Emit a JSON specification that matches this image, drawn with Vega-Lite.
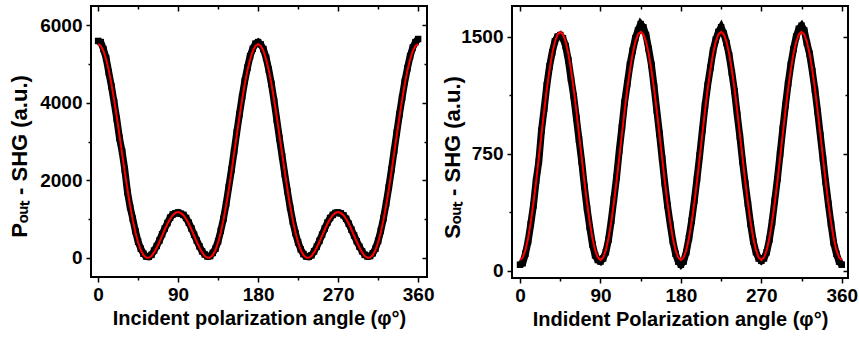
{
  "$schema": "https://vega.github.io/schema/vega-lite/v6.json",
  "background": "white",
  "padding": {"left": 7, "top": 4, "right": 5, "bottom": 5},
  "bounds": "flush",
  "spacing": 85,
  "config": {
    "view": {"stroke": "black", "strokeWidth": 2},
    "axis": {
      "domain": false, "grid": false,
      "labelFont": "Liberation Sans", "labelFontWeight": "bold", "labelFontSize": 19, "labelColor": "black",
      "titleFont": "Liberation Sans", "titleFontWeight": "bold", "titleFontSize": 20, "titleColor": "black",
      "tickColor": "black", "tickWidth": 1.5
    }
  },
  "datasets": {
    "L": [
      {"a":0,"d":5590,"f":5506},{"a":3,"d":5560,"f":5461},{"a":6,"d":5380,"f":5331},{"a":9,"d":5150,"f":5118},{"a":12,"d":4780,"f":4832},{"a":15,"d":4420,"f":4480},{"a":18,"d":4010,"f":4075},{"a":21,"d":3580,"f":3631},{"a":24,"d":3090,"f":3163},{"a":27,"d":2740,"f":2686},{"a":30,"d":2280,"f":2215},{"a":33,"d":1700,"f":1764},{"a":36,"d":1310,"f":1347},{"a":39,"d":1010,"f":974},{"a":42,"d":690,"f":655},{"a":45,"d":420,"f":397},{"a":48,"d":240,"f":203},{"a":51,"d":110,"f":75},{"a":54,"d":40,"f":10},{"a":57,"d":30,"f":5},{"a":60,"d":80,"f":52},{"a":63,"d":190,"f":144},{"a":66,"d":310,"f":269},{"a":69,"d":450,"f":417},{"a":72,"d":610,"f":575},{"a":75,"d":760,"f":733},{"a":78,"d":900,"f":880},{"a":81,"d":1040,"f":1004},{"a":84,"d":1120,"f":1100},{"a":87,"d":1150,"f":1159},{"a":90,"d":1170,"f":1180},
      {"a":93,"d":1140,"f":1159},{"a":96,"d":1110,"f":1100},{"a":99,"d":1030,"f":1004},{"a":102,"d":910,"f":880},{"a":105,"d":760,"f":733},{"a":108,"d":600,"f":575},{"a":111,"d":450,"f":417},{"a":114,"d":300,"f":269},{"a":117,"d":170,"f":144},{"a":120,"d":90,"f":52},{"a":123,"d":40,"f":5},{"a":126,"d":50,"f":10},{"a":129,"d":130,"f":75},{"a":132,"d":240,"f":203},{"a":135,"d":430,"f":397},{"a":138,"d":700,"f":655},{"a":141,"d":1010,"f":974},{"a":144,"d":1390,"f":1347},{"a":147,"d":1830,"f":1764},{"a":150,"d":2270,"f":2215},{"a":153,"d":2750,"f":2686},{"a":156,"d":3240,"f":3163},{"a":159,"d":3700,"f":3631},{"a":162,"d":4150,"f":4075},{"a":165,"d":4560,"f":4480},{"a":168,"d":4900,"f":4832},{"a":171,"d":5200,"f":5118},{"a":174,"d":5390,"f":5331},{"a":177,"d":5520,"f":5461},{"a":180,"d":5560,"f":5506},
      {"a":183,"d":5500,"f":5461},{"a":186,"d":5380,"f":5331},{"a":189,"d":5160,"f":5118},{"a":192,"d":4850,"f":4832},{"a":195,"d":4480,"f":4480},{"a":198,"d":4040,"f":4075},{"a":201,"d":3560,"f":3631},{"a":204,"d":3080,"f":3163},{"a":207,"d":2620,"f":2686},{"a":210,"d":2160,"f":2215},{"a":213,"d":1720,"f":1764},{"a":216,"d":1300,"f":1347},{"a":219,"d":940,"f":974},{"a":222,"d":640,"f":655},{"a":225,"d":400,"f":397},{"a":228,"d":220,"f":203},{"a":231,"d":100,"f":75},{"a":234,"d":40,"f":10},{"a":237,"d":30,"f":5},{"a":240,"d":70,"f":52},{"a":243,"d":170,"f":144},{"a":246,"d":290,"f":269},{"a":249,"d":440,"f":417},{"a":252,"d":600,"f":575},{"a":255,"d":760,"f":733},{"a":258,"d":910,"f":880},{"a":261,"d":1030,"f":1004},{"a":264,"d":1110,"f":1100},{"a":267,"d":1160,"f":1159},{"a":270,"d":1170,"f":1180},
      {"a":273,"d":1150,"f":1159},{"a":276,"d":1100,"f":1100},{"a":279,"d":1010,"f":1004},{"a":282,"d":880,"f":880},{"a":285,"d":730,"f":733},{"a":288,"d":580,"f":575},{"a":291,"d":430,"f":417},{"a":294,"d":290,"f":269},{"a":297,"d":170,"f":144},{"a":300,"d":80,"f":52},{"a":303,"d":40,"f":5},{"a":306,"d":50,"f":10},{"a":309,"d":120,"f":75},{"a":312,"d":240,"f":203},{"a":315,"d":440,"f":397},{"a":318,"d":700,"f":655},{"a":321,"d":1020,"f":974},{"a":324,"d":1400,"f":1347},{"a":327,"d":1820,"f":1764},{"a":330,"d":2280,"f":2215},{"a":333,"d":2760,"f":2686},{"a":336,"d":3230,"f":3163},{"a":339,"d":3700,"f":3631},{"a":342,"d":4130,"f":4075},{"a":345,"d":4540,"f":4480},{"a":348,"d":4890,"f":4832},{"a":351,"d":5200,"f":5118},{"a":354,"d":5420,"f":5331},{"a":357,"d":5560,"f":5461},{"a":360,"d":5640,"f":5506}
    ],
    "R": [
      {"a":0,"d":40,"f":70},{"a":3,"d":50,"f":86},{"a":6,"d":110,"f":133},{"a":9,"d":190,"f":209},{"a":12,"d":300,"f":312},{"a":15,"d":420,"f":435},{"a":18,"d":580,"f":574},{"a":21,"d":700,"f":724},{"a":24,"d":900,"f":876},{"a":27,"d":1040,"f":1026},{"a":30,"d":1190,"f":1165},{"a":33,"d":1310,"f":1288},{"a":36,"d":1400,"f":1391},{"a":39,"d":1470,"f":1467},{"a":42,"d":1500,"f":1514},{"a":45,"d":1510,"f":1530},{"a":48,"d":1490,"f":1514},{"a":51,"d":1440,"f":1467},{"a":54,"d":1350,"f":1391},{"a":57,"d":1230,"f":1288},{"a":60,"d":1120,"f":1165},{"a":63,"d":980,"f":1026},{"a":66,"d":840,"f":876},{"a":69,"d":700,"f":724},{"a":72,"d":540,"f":574},{"a":75,"d":400,"f":435},{"a":78,"d":280,"f":312},{"a":81,"d":170,"f":209},{"a":84,"d":100,"f":133},{"a":87,"d":70,"f":86},{"a":90,"d":60,"f":70},
      {"a":93,"d":80,"f":86},{"a":96,"d":120,"f":133},{"a":99,"d":200,"f":209},{"a":102,"d":320,"f":312},{"a":105,"d":460,"f":435},{"a":108,"d":600,"f":574},{"a":111,"d":770,"f":724},{"a":114,"d":920,"f":876},{"a":117,"d":1080,"f":1026},{"a":120,"d":1200,"f":1165},{"a":123,"d":1320,"f":1288},{"a":126,"d":1410,"f":1391},{"a":129,"d":1490,"f":1467},{"a":132,"d":1540,"f":1514},{"a":135,"d":1580,"f":1530},{"a":138,"d":1560,"f":1514},{"a":141,"d":1510,"f":1467},{"a":144,"d":1420,"f":1391},{"a":147,"d":1320,"f":1288},{"a":150,"d":1180,"f":1165},{"a":153,"d":1030,"f":1026},{"a":156,"d":880,"f":876},{"a":159,"d":720,"f":724},{"a":162,"d":560,"f":574},{"a":165,"d":420,"f":435},{"a":168,"d":300,"f":312},{"a":171,"d":190,"f":209},{"a":174,"d":110,"f":133},{"a":177,"d":60,"f":86},{"a":180,"d":40,"f":70},
      {"a":183,"d":60,"f":86},{"a":186,"d":120,"f":133},{"a":189,"d":210,"f":209},{"a":192,"d":320,"f":312},{"a":195,"d":450,"f":435},{"a":198,"d":590,"f":574},{"a":201,"d":740,"f":724},{"a":204,"d":900,"f":876},{"a":207,"d":1060,"f":1026},{"a":210,"d":1190,"f":1165},{"a":213,"d":1300,"f":1288},{"a":216,"d":1410,"f":1391},{"a":219,"d":1480,"f":1467},{"a":222,"d":1530,"f":1514},{"a":225,"d":1560,"f":1530},{"a":228,"d":1520,"f":1514},{"a":231,"d":1460,"f":1467},{"a":234,"d":1380,"f":1391},{"a":237,"d":1270,"f":1288},{"a":240,"d":1150,"f":1165},{"a":243,"d":1000,"f":1026},{"a":246,"d":860,"f":876},{"a":249,"d":700,"f":724},{"a":252,"d":560,"f":574},{"a":255,"d":430,"f":435},{"a":258,"d":300,"f":312},{"a":261,"d":190,"f":209},{"a":264,"d":120,"f":133},{"a":267,"d":80,"f":86},{"a":270,"d":65,"f":70},
      {"a":273,"d":80,"f":86},{"a":276,"d":120,"f":133},{"a":279,"d":200,"f":209},{"a":282,"d":310,"f":312},{"a":285,"d":450,"f":435},{"a":288,"d":590,"f":574},{"a":291,"d":750,"f":724},{"a":294,"d":910,"f":876},{"a":297,"d":1060,"f":1026},{"a":300,"d":1200,"f":1165},{"a":303,"d":1320,"f":1288},{"a":306,"d":1420,"f":1391},{"a":309,"d":1500,"f":1467},{"a":312,"d":1550,"f":1514},{"a":315,"d":1570,"f":1530},{"a":318,"d":1540,"f":1514},{"a":321,"d":1460,"f":1467},{"a":324,"d":1390,"f":1391},{"a":327,"d":1280,"f":1288},{"a":330,"d":1160,"f":1165},{"a":333,"d":1020,"f":1026},{"a":336,"d":870,"f":876},{"a":339,"d":720,"f":724},{"a":342,"d":570,"f":574},{"a":345,"d":430,"f":435},{"a":348,"d":300,"f":312},{"a":351,"d":180,"f":209},{"a":354,"d":110,"f":133},{"a":357,"d":60,"f":86},{"a":360,"d":40,"f":70}
    ]
  },
  "hconcat": [
    {
      "width": 336, "height": 271,
      "data": {"name": "L"},
      "layer": [
        {
          "mark": {"type": "line", "color": "black", "strokeWidth": 7},
          "encoding": {
            "x": {"field": "a", "type": "quantitative", "scale": {"domain": [-8, 370], "nice": false, "zero": false},
              "axis": {"orient": "bottom", "values": [0,45,90,135,180,225,270,315,360], "format": "d",
                "labelExpr": "datum.value % 90 === 0 ? datum.label : ''",
                "tickSize": {"condition": {"test": "datum.value % 90 === 0", "value": 5}, "value": 3},
                "labelPadding": 3, "title": "Incident polarization angle (φ°)", "titlePadding": 4}},
            "y": {"field": "d", "type": "quantitative", "scale": {"domain": [-490, 6490], "nice": false, "zero": false},
              "axis": {"orient": "left", "values": [0,1000,2000,3000,4000,5000,6000], "format": "d",
                "labelExpr": "datum.value % 2000 === 0 ? datum.label : ''",
                "tickSize": {"condition": {"test": "datum.value % 2000 === 0", "value": 5}, "value": 3},
                "labelPadding": 4, "title": "Pₒᵤₜ - SHG (a.u.)", "titleFontSize": 22,
                "titleX": -65, "titleY": 150, "titleBaseline": "alphabetic", "titleAngle": 270, "titleAlign": "center"}}
          }
        },
        {
          "mark": {"type": "square", "color": "black", "size": 42, "opacity": 1},
          "encoding": {
            "x": {"field": "a", "type": "quantitative", "scale": {"domain": [-8, 370], "nice": false, "zero": false}, "axis": null},
            "y": {"field": "d", "type": "quantitative", "scale": {"domain": [-490, 6490], "nice": false, "zero": false}, "axis": null}
          }
        },
        {
          "mark": {"type": "line", "color": "#ff0000", "strokeWidth": 2},
          "encoding": {
            "x": {"field": "a", "type": "quantitative", "scale": {"domain": [-8, 370], "nice": false, "zero": false},
              "axis": {"orient": "top", "values": [0,45,90,135,180,225,270,315,360], "labels": false, "title": null,
                "tickSize": {"condition": {"test": "datum.value % 90 === 0", "value": -5}, "value": -3}}},
            "y": {"field": "f", "type": "quantitative", "scale": {"domain": [-490, 6490], "nice": false, "zero": false},
              "axis": {"orient": "right", "values": [0,1000,2000,3000,4000,5000,6000], "labels": false, "title": null,
                "tickSize": {"condition": {"test": "datum.value % 2000 === 0", "value": -5}, "value": -3}}}
          }
        }
      ],
      "resolve": {"axis": {"x": "independent", "y": "independent"}}
    },
    {
      "width": 336, "height": 272,
      "data": {"name": "R"},
      "layer": [
        {
          "mark": {"type": "line", "color": "black", "strokeWidth": 7},
          "encoding": {
            "x": {"field": "a", "type": "quantitative", "scale": {"domain": [-9, 367], "nice": false, "zero": false},
              "axis": {"orient": "bottom", "values": [0,45,90,135,180,225,270,315,360], "format": "d",
                "labelExpr": "datum.value % 90 === 0 ? datum.label : ''",
                "tickSize": {"condition": {"test": "datum.value % 90 === 0", "value": 5}, "value": 3},
                "labelPadding": 3, "title": "Indident Polarization angle (φ°)", "titlePadding": 4}},
            "y": {"field": "d", "type": "quantitative", "scale": {"domain": [-45, 1696], "nice": false, "zero": false},
              "axis": {"orient": "left", "values": [0,375,750,1125,1500], "format": "d",
                "labelExpr": "datum.value % 750 === 0 ? datum.label : ''",
                "tickSize": {"condition": {"test": "datum.value % 750 === 0", "value": 5}, "value": 3},
                "labelPadding": 4, "title": "Sₒᵤₜ - SHG (a.u.)", "titleFontSize": 22,
                "titleX": -53, "titleY": 151, "titleBaseline": "alphabetic", "titleAngle": 270, "titleAlign": "center"}}
          }
        },
        {
          "mark": {"type": "square", "color": "black", "size": 42, "opacity": 1},
          "encoding": {
            "x": {"field": "a", "type": "quantitative", "scale": {"domain": [-9, 367], "nice": false, "zero": false}, "axis": null},
            "y": {"field": "d", "type": "quantitative", "scale": {"domain": [-45, 1696], "nice": false, "zero": false}, "axis": null}
          }
        },
        {
          "mark": {"type": "line", "color": "#ff0000", "strokeWidth": 2},
          "encoding": {
            "x": {"field": "a", "type": "quantitative", "scale": {"domain": [-9, 367], "nice": false, "zero": false},
              "axis": {"orient": "top", "values": [0,45,90,135,180,225,270,315,360], "labels": false, "title": null,
                "tickSize": {"condition": {"test": "datum.value % 90 === 0", "value": -5}, "value": -3}}},
            "y": {"field": "f", "type": "quantitative", "scale": {"domain": [-45, 1696], "nice": false, "zero": false},
              "axis": {"orient": "right", "values": [0,375,750,1125,1500], "labels": false, "title": null,
                "tickSize": {"condition": {"test": "datum.value % 750 === 0", "value": -5}, "value": -3}}}
          }
        }
      ],
      "resolve": {"axis": {"x": "independent", "y": "independent"}}
    }
  ]
}
